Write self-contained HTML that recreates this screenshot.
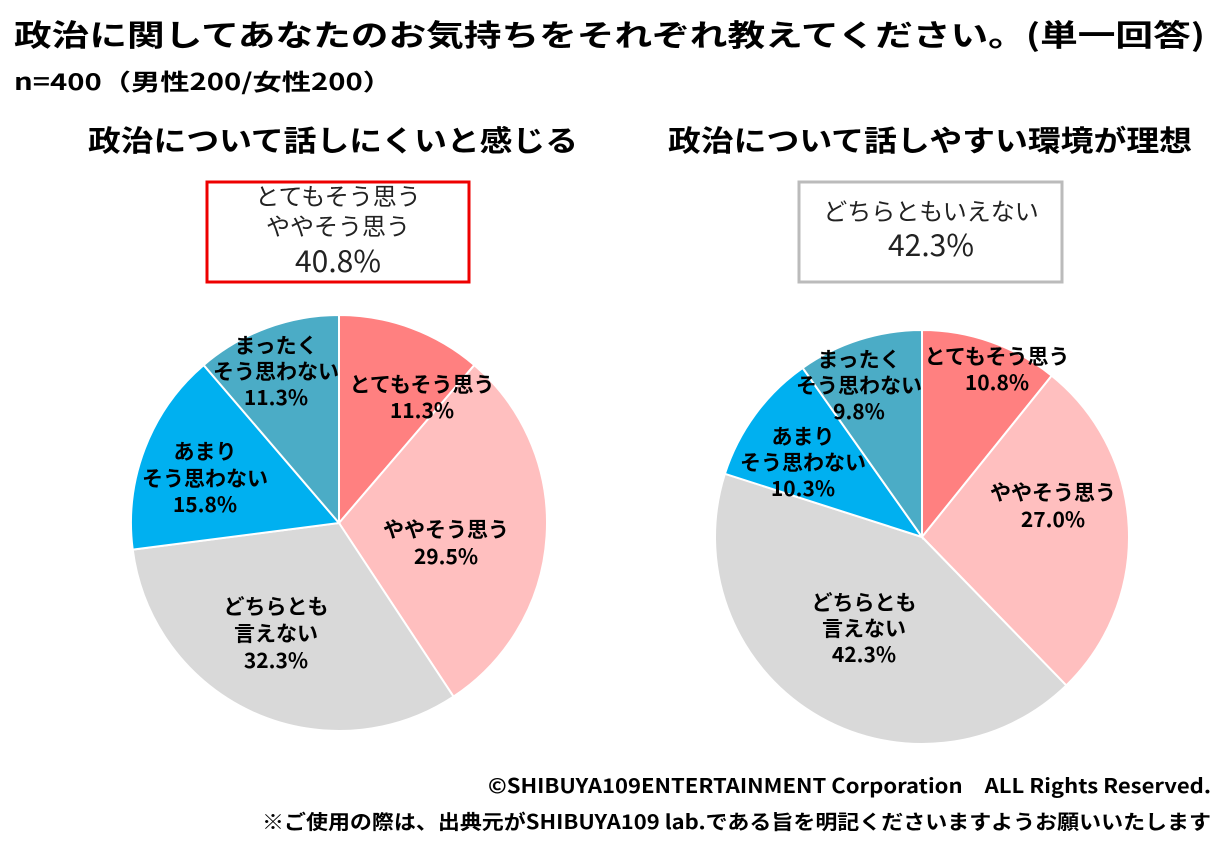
<!DOCTYPE html>
<html><head><meta charset="utf-8"><style>
body{margin:0;background:#fff;}
svg{display:block;font-family:"Noto Sans CJK JP","Liberation Sans",sans-serif;}
.b{font-weight:bold;}
.lbl{font-weight:bold;font-size:21px;fill:#000;text-anchor:middle;}
</style></head><body>
<svg id="s" width="1229" height="854" viewBox="0 0 1229 854">
<g id="pies" stroke="#fff" stroke-width="2"></g>
<text x="14" y="46" class="b" font-size="30" textLength="1191" lengthAdjust="spacingAndGlyphs">政治に関してあなたのお気持ちをそれぞれ教えてください。(単一回答)</text>
<text x="14" y="90" class="b" font-size="23" textLength="378" lengthAdjust="spacingAndGlyphs">n=400（男性200/女性200）</text>
<text x="88" y="151" class="b" font-size="29" textLength="490" lengthAdjust="spacingAndGlyphs">政治について話しにくいと感じる</text>
<text x="668" y="151" class="b" font-size="29" textLength="524" lengthAdjust="spacingAndGlyphs">政治について話しやすい環境が理想</text>
<rect x="207" y="182" width="262" height="100" fill="none" stroke="#e00" stroke-width="3"/>
<text x="338" y="205" font-size="24" text-anchor="middle" fill="#222">とてもそう思う</text>
<text x="338" y="235" font-size="24" text-anchor="middle" fill="#222">ややそう思う</text>
<text x="338" y="272" font-size="30" text-anchor="middle" fill="#222">40.8%</text>
<rect x="799" y="182" width="263" height="100" fill="none" stroke="#bbb" stroke-width="3"/>
<text x="931" y="220" font-size="24" text-anchor="middle" fill="#222">どちらともいえない</text>
<text x="931" y="256" font-size="30" text-anchor="middle" fill="#222">42.3%</text>
<g class="lbl">
<text class="lbl" x="422" y="392">とてもそう思う</text><text class="lbl" x="422" y="418">11.3%</text>
<text class="lbl" x="446" y="537">ややそう思う</text><text class="lbl" x="446" y="564">29.5%</text>
<text class="lbl" x="276" y="614">どちらとも</text><text class="lbl" x="276" y="641">言えない</text><text class="lbl" x="276" y="668">32.3%</text>
<text class="lbl" x="205" y="459">あまり</text><text class="lbl" x="205" y="486">そう思わない</text><text class="lbl" x="205" y="512">15.8%</text>
<text class="lbl" x="276" y="353">まったく</text><text class="lbl" x="276" y="379">そう思わない</text><text class="lbl" x="276" y="405">11.3%</text>
<text class="lbl" x="997" y="364">とてもそう思う</text><text class="lbl" x="997" y="390">10.8%</text>
<text class="lbl" x="1053" y="500">ややそう思う</text><text class="lbl" x="1053" y="527">27.0%</text>
<text class="lbl" x="864" y="610">どちらとも</text><text class="lbl" x="864" y="636">言えない</text><text class="lbl" x="864" y="662">42.3%</text>
<text class="lbl" x="803" y="444">あまり</text><text class="lbl" x="803" y="470">そう思わない</text><text class="lbl" x="803" y="496">10.3%</text>
<text class="lbl" x="859" y="367">まったく</text><text class="lbl" x="859" y="393">そう思わない</text><text class="lbl" x="859" y="419">9.8%</text>
</g>
<text x="488" y="793" class="b" font-size="20" textLength="723" lengthAdjust="spacingAndGlyphs">©SHIBUYA109ENTERTAINMENT Corporation　ALL Rights Reserved.</text>
<text x="262" y="829" class="b" font-size="20" textLength="949" lengthAdjust="spacingAndGlyphs">※ご使用の際は、出典元がSHIBUYA109 lab.である旨を明記くださいますようお願いいたします</text>
</svg>
<script>
var cols=["#FF8080","#FFBFBF","#D9D9D9","#00B0F0","#4BACC6"];
function pie(cx,cy,r,v){var g=document.getElementById("pies"),a=0,t=v.reduce((x,y)=>x+y,0);
v.forEach(function(p,i){var a2=a+p/t*2*Math.PI;
var x1=cx+r*Math.sin(a),y1=cy-r*Math.cos(a),x2=cx+r*Math.sin(a2),y2=cy-r*Math.cos(a2);
var e=document.createElementNS("http://www.w3.org/2000/svg","path");
e.setAttribute("d","M"+cx+","+cy+"L"+x1+","+y1+"A"+r+","+r+" 0 "+(a2-a>Math.PI?1:0)+" 1 "+x2+","+y2+"Z");
e.setAttribute("fill",cols[i]);g.appendChild(e);a=a2;});}
pie(339,523,208,[11.3,29.5,32.3,15.8,11.3]);
pie(922,537,207,[10.8,27.0,42.3,10.3,9.8]);
</script>
</body></html>
